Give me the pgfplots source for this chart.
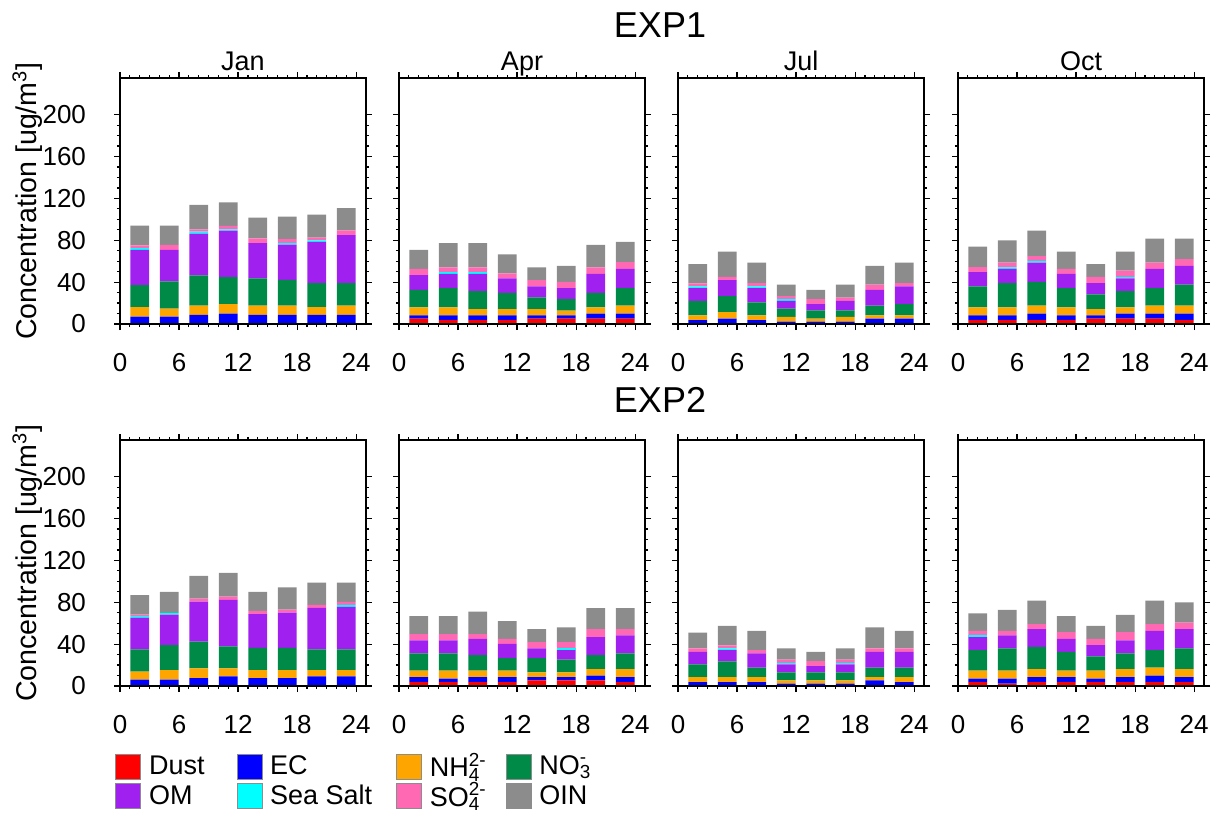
\documentclass[border=0pt]{standalone}
\usepackage{pgfplots}
\pgfplotsset{compat=1.18}
\usepackage{pgfplotstable}
\usepackage{fontspec}
\setmainfont{Liberation Sans}

\definecolor{cDust}{RGB}{255,0,0}
\definecolor{cEC}{RGB}{0,0,255}
\definecolor{cNH}{RGB}{255,165,0}
\definecolor{cNO}{RGB}{0,138,72}
\definecolor{cOM}{RGB}{160,32,240}
\definecolor{cSS}{RGB}{0,255,255}
\definecolor{cSO}{RGB}{255,105,180}
\definecolor{cOIN}{RGB}{140,140,140}

\pgfplotstableread{
x dust ec nh4 no3 om ss so4 oin
2 0 7.0 9.2 20.9 33.7 1.6 2.8 18.8
5 0 7.0 7.6 26.0 30.2 0 4.8 18.4
8 0 8.6 8.9 28.9 40.0 1.9 2.2 23.2
11 0 9.8 9.2 25.8 44.4 1.3 3.2 22.5
14 0 8.6 8.9 26.0 33.7 0 4.7 19.7
17 0 8.6 8.9 24.7 33.7 1.3 3.8 21.6
20 0 8.6 7.6 22.9 39.3 1.6 2.6 21.9
23 0 8.6 8.9 21.6 45.7 0 4.7 21.3
}\JanA
\pgfplotstableread{
x dust ec nh4 no3 om ss so4 oin
2 5.1 3.2 7.6 16.8 14.0 0 6.0 18.1
5 3.8 4.5 7.6 18.4 13.6 1.6 4.5 23.2
8 3.8 4.5 6.0 17.1 16.5 1.6 4.5 23.2
11 3.8 4.5 6.0 15.5 13.7 0 4.8 18.1
14 5.1 3.2 6.0 11.1 10.5 0 6.0 12.1
17 5.1 3.2 4.4 11.1 10.5 0 6.0 15.3
20 5.1 4.7 6.1 13.9 18.1 0 6.1 21.6
23 5.1 4.7 7.7 16.8 18.4 0 6.4 19.3
}\AprA
\pgfplotstableread{
x dust ec nh4 no3 om ss so4 oin
2 0.8 3.0 4.5 13.9 12.1 1.6 2.8 18.5
5 0.8 4.3 6.3 15.3 15.2 0 3.2 24.1
8 0.8 3.0 4.5 12.3 13.7 1.6 3.2 19.6
11 0.7 1.5 4.5 7.9 7.6 1.6 2.9 10.8
14 0.7 1.5 2.9 7.9 6.0 0 4.8 8.9
17 0.7 1.5 4.5 6.3 9.2 0 2.9 12.4
20 0.8 4.3 3.2 9.2 15.2 0 4.8 18.1
23 0.8 4.3 3.2 10.7 16.9 0 3.2 19.6
}\JulA
\pgfplotstableread{
x dust ec nh4 no3 om ss so4 oin
2 3.8 4.5 7.6 20.0 13.6 0 4.8 19.7
5 3.8 4.5 7.6 23.2 13.6 1.3 4.7 21.3
8 3.8 6.0 7.7 22.8 18.4 1.6 4.5 24.4
11 3.8 4.5 7.6 18.4 13.6 0 4.8 16.5
14 5.1 3.2 6.0 14.0 10.8 0 6.0 12.1
17 5.1 4.7 6.1 15.5 12.1 1.6 6.0 18.1
20 5.1 4.7 7.7 16.8 18.4 0 6.0 22.9
23 3.8 6.0 7.7 20.0 18.1 0 6.3 19.7
}\OctA
\pgfplotstableread{
x dust ec nh4 no3 om ss so4 oin
2 0 6.0 7.7 21.2 30.5 1.6 1.3 18.4
5 0 6.0 9.2 23.9 29.2 1.6 0 20.0
8 0 7.6 9.2 25.7 38.1 0 2.9 21.6
11 0 9.2 7.6 21.0 44.4 0 3.2 22.6
14 0 7.6 7.6 21.3 32.1 0 3.2 18.1
17 0 7.6 7.6 21.3 33.7 0 2.8 21.3
20 0 9.2 6.0 19.7 39.7 0 2.9 21.2
23 0 9.2 6.0 19.7 40.7 1.9 2.8 18.4
}\JanB
\pgfplotstableread{
x dust ec nh4 no3 om ss so4 oin
2 3.8 4.8 6.0 16.5 12.4 0 6.0 17.2
5 3.8 3.2 7.6 16.5 12.4 0 6.0 17.2
8 3.8 4.8 6.0 14.9 15.6 0 4.4 21.6
11 3.8 4.8 6.0 12.1 13.6 0 4.8 16.8
14 5.4 3.2 4.4 13.7 9.2 0 6.0 12.4
17 5.4 3.2 4.4 12.1 9.2 1.6 6.0 14.0
20 5.4 4.4 6.4 13.3 17.2 0 7.6 20.0
23 3.8 4.8 7.6 14.9 17.2 0 6.0 20.0
}\AprB
\pgfplotstableread{
x dust ec nh4 no3 om ss so4 oin
2 0.8 3.0 4.8 12.0 12.1 0 3.2 15.2
5 0.8 3.0 4.8 14.9 10.8 1.6 2.8 18.8
8 0.8 3.0 4.8 8.9 13.6 0 3.2 18.4
11 0.6 1.6 3.2 7.6 7.6 1.6 2.9 10.8
14 0.6 1.6 3.2 7.6 6.0 0 4.8 8.9
17 0.6 1.6 3.2 7.6 7.6 1.6 2.9 10.8
20 0.8 4.6 3.2 8.9 15.2 0 3.2 20.0
23 0.8 3.0 4.8 8.9 15.2 0 3.2 16.8
}\JulB
\pgfplotstableread{
x dust ec nh4 no3 om ss so4 oin
2 3.8 3.2 7.6 19.7 12.4 1.6 4.4 16.8
5 2.2 4.8 7.6 21.3 12.4 0 4.4 20.0
8 3.8 4.8 7.6 21.3 16.8 0 4.8 22.5
11 3.8 4.8 6.0 18.1 12.4 0 6.3 15.3
14 3.8 3.2 7.6 13.7 10.8 0 6.0 12.4
17 3.8 4.8 7.6 14.9 12.4 0 7.9 16.5
20 3.8 6.0 7.7 16.8 18.4 0 6.4 22.5
23 3.8 4.8 7.6 19.7 18.4 0 6.3 19.4
}\OctB

\newcommand{\stack}[1]{%
\addplot[draw=none,fill=cDust] table[x=x,y=dust]{#1};
\addplot[draw=none,fill=cEC] table[x=x,y=ec]{#1};
\addplot[draw=none,fill=cNH] table[x=x,y=nh4]{#1};
\addplot[draw=none,fill=cNO] table[x=x,y=no3]{#1};
\addplot[draw=none,fill=cOM] table[x=x,y=om]{#1};
\addplot[draw=none,fill=cSS] table[x=x,y=ss]{#1};
\addplot[draw=none,fill=cSO] table[x=x,y=so4]{#1};
\addplot[draw=none,fill=cOIN] table[x=x,y=oin]{#1};
}

\newcommand{\fs}{\fontsize{13}{15.5}\selectfont}
\newcommand{\ft}{\fontsize{13.5}{16}\selectfont}
\newcommand{\fl}{\fontsize{14.3}{17}\selectfont}
\newcommand{\subsup}[2]{\rlap{\textsubscript{#1}}\textsuperscript{#2}}

\pgfplotsset{
  panel/.style={
    scale only axis, width=123pt, height=123pt,
    xmin=0, xmax=25, ymin=0, ymax=235,
    ybar stacked, bar width=1.9,
    xtick={0,6,...,24}, minor x tick num=5,
    ytick={0,40,...,200}, minor y tick num=3,
    tick align=outside,
    major tick length=3pt, minor tick length=1.6pt,
    axis line style={line width=0.75pt},
    every tick/.style={black, line width=0.6pt},
    axis on top,
    tick label style={font=\fs},
    /pgf/number format/assume math mode=true,
    xticklabel style={yshift=-8pt},
    yticklabel style={xshift=-10.5pt},
    title style={font=\ft, at={(0.5,1)}, anchor=base, yshift=-2.5pt, inner sep=0pt},
    label style={font=\fl},
    ylabel style={yshift=-7pt},
  },
  first/.style={ylabel={Concentration [ug/m\textsuperscript{3}]}},
  other/.style={yticklabels={}},
}

\begin{document}
\begin{tikzpicture}
\path[use as bounding box] (0,0) rectangle (610pt,-409pt);
\node[font=\fontsize{18}{21}\selectfont] at (330pt,-12.5pt) {EXP1};
\node[font=\fontsize{18}{21}\selectfont] at (330pt,-200pt) {EXP2};

\begin{axis}[panel, first, title={Jan}, at={(60pt,-162pt)}, anchor=south west]
\stack{\JanA}
\end{axis}
\begin{axis}[panel, other, title={Apr}, at={(199.5pt,-162pt)}, anchor=south west]
\stack{\AprA}
\end{axis}
\begin{axis}[panel, other, title={Jul}, at={(339pt,-162pt)}, anchor=south west]
\stack{\JulA}
\end{axis}
\begin{axis}[panel, other, title={Oct}, at={(479pt,-162pt)}, anchor=south west]
\stack{\OctA}
\end{axis}

\begin{axis}[panel, first, at={(60pt,-343pt)}, anchor=south west,
  legend columns=4,
  legend cell align=left,
  legend style={at={(axis description cs:-0.02,-0.255)}, anchor=north west,
    draw=none, fill=none, font=\fontsize{13.5}{16}\selectfont, inner sep=0pt, row sep=-2.5pt,
    /tikz/every odd column/.append style={column sep=2pt},
    /tikz/column 2/.append style={column sep=14pt},
    /tikz/column 4/.append style={column sep=10pt},
    /tikz/column 6/.append style={column sep=7.5pt}},
  legend image code/.code={\draw[#1,draw=black!45,line width=0.3pt] (0pt,-6.25pt) rectangle (12.5pt,6.25pt);},
  legend entries={Dust, EC, NH\subsup{4}{2-}, NO\subsup{3}{-},
    OM, Sea Salt, SO\subsup{4}{2-}, OIN}]
\stack{\JanB}
\end{axis}
\begin{axis}[panel, other, at={(199.5pt,-343pt)}, anchor=south west]
\stack{\AprB}
\end{axis}
\begin{axis}[panel, other, at={(339pt,-343pt)}, anchor=south west]
\stack{\JulB}
\end{axis}
\begin{axis}[panel, other, at={(479pt,-343pt)}, anchor=south west]
\stack{\OctB}
\end{axis}
\end{tikzpicture}
\end{document}
